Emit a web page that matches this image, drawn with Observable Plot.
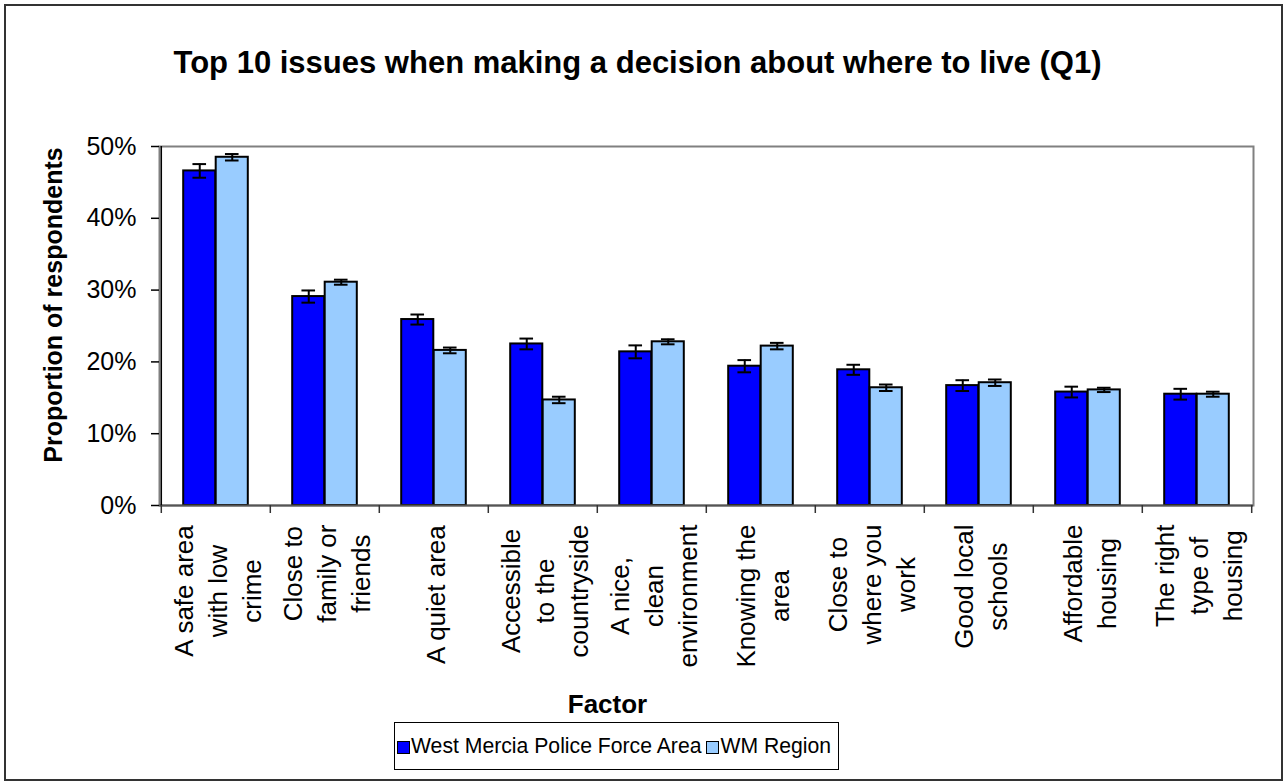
<!DOCTYPE html>
<html>
<head>
<meta charset="utf-8">
<script src="https://cdn.jsdelivr.net/npm/d3@7"></script>
<script src="https://cdn.jsdelivr.net/npm/@observablehq/plot@0.6"></script>
<style>
  body { margin: 0; background: #fff; }
  #wrap { position: relative; width: 1284px; height: 783px; overflow: hidden; font-family: "Liberation Sans", Arial, sans-serif; }
  #border { position: absolute; left: 4px; top: 4px; width: 1279px; height: 777px; border: 2px solid #333; box-sizing: border-box; }
  #chart { position: absolute; left: 0; top: 0; }
  #legend { position: absolute; left: 394px; top: 722px; width: 445px; height: 48px; border: 1.5px solid #000; box-sizing: border-box;
            display: flex; align-items: center; padding-left: 2px; font-size: 21.2px; color: #000; white-space: nowrap; }
  .sw { display: inline-block; width: 11px; height: 11px; border: 1.5px solid #000; margin-right: 1px; margin-top: 3px; }
</style>
</head>
<body>
<div id="wrap">
  <div id="border"></div>
  <div id="chart"></div>
  <div id="legend"></div>
</div>
<script>
// ---------- data ----------
const titleText = "Top 10 issues when making a decision about where to live (Q1)";
const yLabel = "Proportion of respondents";
const xLabel = "Factor";
const categories = [
  "A safe area\nwith low\ncrime",
  "Close to\nfamily or\nfriends",
  "A quiet area",
  "Accessible\nto the\ncountryside",
  "A nice,\nclean\nenvironment",
  "Knowing the\narea",
  "Close to\nwhere you\nwork",
  "Good local\nschools",
  "Affordable\nhousing",
  "The right\ntype of\nhousing"
];
const seriesNames = ["West Mercia Police Force Area", "WM Region"];
const westMercia    = [46.6, 29.1, 25.9, 22.5, 21.4, 19.4, 18.9, 16.7, 15.8, 15.5];
const westMerciaErr = [0.95, 0.85, 0.7, 0.75, 0.9, 0.85, 0.7, 0.75, 0.75, 0.75];
const wmRegion      = [48.5, 31.1, 21.6, 14.7, 22.8, 22.2, 16.4, 17.1, 16.1, 15.5];
const wmRegionErr   = [0.45, 0.35, 0.4, 0.45, 0.35, 0.45, 0.45, 0.45, 0.3, 0.35];
const yTicks = [0, 10, 20, 30, 40, 50];
const colors = ["#0000FF", "#99CCFF"];

// ---------- layout ----------
const W = 1284, H = 783;
const mL = 159, mR = 31, mT = 146, mB = 278;
const frameH = H - mT - mB;
const bw = (W - mL - mR) / categories.length;
const barW = 32.5, capW = 14;

const seriesRows = [westMercia, wmRegion].map((vals, s) =>
  categories.map((c, i) => ({
    category: c,
    series: seriesNames[s],
    value: vals[i],
    err: (s === 0 ? westMerciaErr : wmRegionErr)[i]
  }))
);

// measure category label widths for top-aligned wrapped labels
const ctx = document.createElement("canvas").getContext("2d");
ctx.font = "26px 'Liberation Sans'";
const maxW = categories.map(c => Math.max(...c.split("\n").map(l => ctx.measureText(l).width)));

const marks = [];
marks.push(Plot.frame({stroke: "#808080", strokeWidth: 2}));

seriesRows.forEach((rows, s) => {
  const off = (s - 0.5) * barW;
  marks.push(Plot.barY(rows, {
    x: "category", y: "value", fill: colors[s], stroke: "#000", strokeWidth: 2,
    insetLeft: bw / 2 + off - barW / 2, insetRight: bw / 2 - off - barW / 2
  }));
  marks.push(Plot.ruleX(rows, {
    x: "category", y1: d => d.value - d.err, y2: d => d.value + d.err, dx: off, stroke: "#000", strokeWidth: 2
  }));
  for (const sign of [-1, 1]) {
    marks.push(Plot.tickY(rows, {
      x: "category", y: d => d.value + sign * d.err, stroke: "#000", strokeWidth: 2,
      insetLeft: bw / 2 + off - capW / 2, insetRight: bw / 2 - off - capW / 2
    }));
  }
});

// axes lines and boundary ticks
marks.push(Plot.ruleY([0], {stroke: "#555", strokeWidth: 2}));
marks.push(Plot.ruleX([categories[0]], {dx: -bw / 2, stroke: "#000", strokeWidth: 1.5}));
marks.push(Plot.ruleX(categories, {dx: -bw / 2, insetTop: frameH, insetBottom: -8, stroke: "#333", strokeWidth: 1.5}));
marks.push(Plot.ruleX([categories[categories.length - 1]], {dx: bw / 2, insetTop: frameH, insetBottom: -8, stroke: "#333", strokeWidth: 1.5}));
marks.push(Plot.axisY(yTicks, {label: null, tickFormat: d => d + "%", tickSize: 8, tickPadding: 15, fontSize: 25, strokeWidth: 1.5}));

// category labels
categories.forEach((c, i) => {
  marks.push(Plot.text([c], {
    x: d => d, text: d => d, frameAnchor: "bottom", rotate: -90,
    textAnchor: "middle", lineAnchor: "middle", lineHeight: 1.3,
    fontSize: 26, dy: 19 + maxW[i] / 2, fill: "#000"
  }));
});

// titles
marks.push(Plot.text([titleText], {text: d => d, frameAnchor: "top", dx: -69, dy: -74, lineAnchor: "bottom", fontSize: 31, fontWeight: "bold", fill: "#000"}));
marks.push(Plot.text([yLabel], {text: d => d, frameAnchor: "left", rotate: -90, textAnchor: "middle", dx: -98, dy: -21, lineAnchor: "bottom", fontSize: 25, fontWeight: "bold", fill: "#000"}));
marks.push(Plot.text([xLabel], {text: d => d, frameAnchor: "bottom", dx: -99, dy: 207, lineAnchor: "bottom", fontSize: 26, fontWeight: "bold", fill: "#000"}));

const chart = Plot.plot({
  width: W, height: H,
  marginLeft: mL, marginRight: mR, marginTop: mT, marginBottom: mB,
  style: {fontFamily: "'Liberation Sans', Arial, sans-serif", background: "transparent", color: "#000", overflow: "visible"},
  x: {type: "band", domain: categories, padding: 0, axis: null},
  y: {domain: [0, 50], axis: null},
  marks
});
document.getElementById("chart").appendChild(chart);

// legend
const legend = document.getElementById("legend");
seriesNames.forEach((name, s) => {
  const sw = document.createElement("span");
  sw.className = "sw";
  sw.style.background = colors[s];
  legend.appendChild(sw);
  const t = document.createElement("span");
  t.textContent = name;
  t.style.marginRight = s === 0 ? "5px" : "0";
  legend.appendChild(t);
});
</script>
</body>
</html>
